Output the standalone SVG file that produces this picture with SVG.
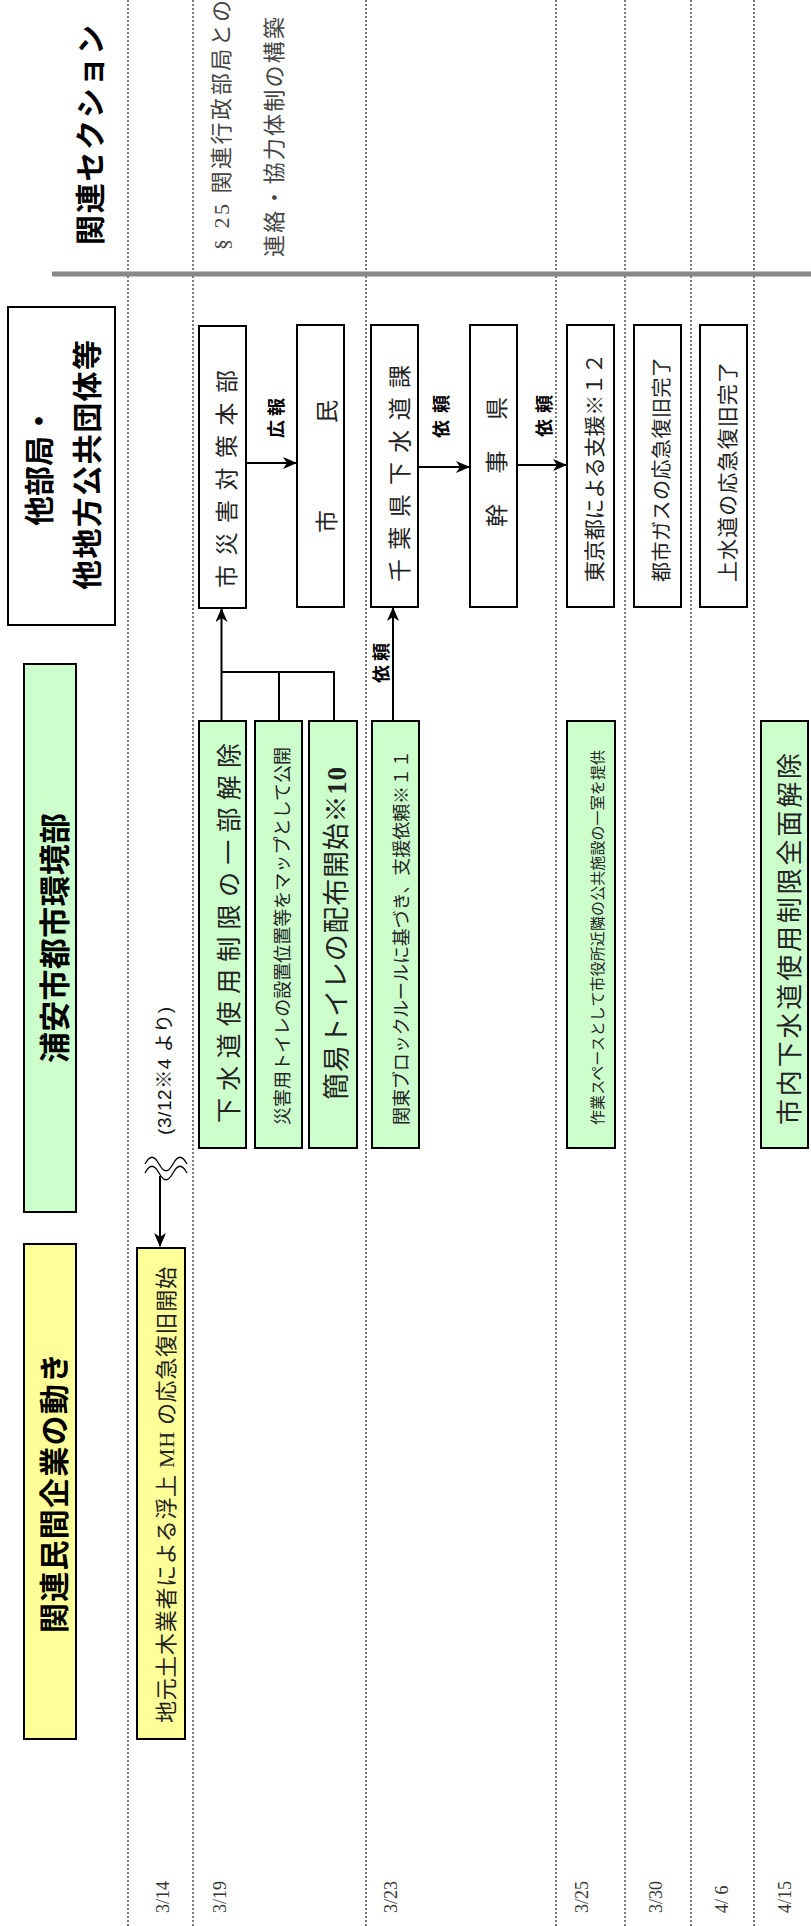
<svg xmlns="http://www.w3.org/2000/svg" width="811" height="1926" viewBox="0 0 811 1926">
<defs>
<marker id="ah" markerWidth="14" markerHeight="12" refX="13" refY="6" orient="auto" markerUnits="userSpaceOnUse">
<path d="M0,0 L14,6 L0,12 L4,6 z" fill="#000"/>
</marker>
<style>
.dot{stroke:#222;stroke-width:1.2;stroke-dasharray:2 2;fill:none}
.box{fill:#fff;stroke:#000;stroke-width:2}
.g{fill:#ccffcc;stroke:#000;stroke-width:2}
.y{fill:#ffff99;stroke:#000;stroke-width:2}
.hd{font-family:"Noto Sans CJK JP",sans-serif;font-weight:bold;fill:#000}
.mt{font-family:"Liberation Serif","Noto Sans CJK JP",serif;fill:#222}
.gr{font-family:"Liberation Serif","Noto Sans CJK JP",serif;fill:#444}
.lb{font-family:"Noto Sans CJK JP",sans-serif;font-weight:bold;font-size:18px;fill:#000}
.sn{font-family:"Liberation Sans","Noto Sans CJK JP",sans-serif;fill:#111}
.dt{font-family:"Liberation Serif",serif;font-size:18px;fill:#333}
.ln{stroke:#000;stroke-width:2;fill:none}
.wv{stroke:#000;stroke-width:1.3;fill:none}
text{dominant-baseline:central}
</style>
</defs>

<g id="grid">
<line class="dot" x1="128" y1="0" x2="128" y2="1926"/>
<line class="dot" x1="193" y1="0" x2="193" y2="1926"/>
<line class="dot" x1="366" y1="0" x2="366" y2="1926"/>
<line class="dot" x1="556" y1="0" x2="556" y2="1926"/>
<line class="dot" x1="625" y1="0" x2="625" y2="1926"/>
<line class="dot" x1="691" y1="0" x2="691" y2="1926"/>
<line class="dot" x1="754" y1="0" x2="754" y2="1926"/>
<line x1="52" y1="274" x2="811" y2="274" stroke="#888" stroke-width="5"/>
</g>

<g id="section-title">
<text class="hd" font-size="30" transform="translate(88,245) rotate(-90)" textLength="220" lengthAdjust="spacing">関連セクション</text>
</g>
<g id="section-note">
<text class="gr" font-size="22" transform="translate(221,250) rotate(-90)" textLength="250" lengthAdjust="spacing">§ 25 関連行政部局との</text>
<text class="gr" font-size="22" transform="translate(274,257) rotate(-90)" textLength="240" lengthAdjust="spacing">連絡・協力体制の構築</text>
</g>

<g id="hdr-other">
<rect class="box" x="8" y="307" width="107" height="318"/>
<text class="hd" font-size="30" text-anchor="middle" transform="translate(37,466) rotate(-90)">他部局・</text>
<text class="hd" font-size="30" transform="translate(85,590) rotate(-90)" textLength="250" lengthAdjust="spacing">他地方公共団体等</text>
</g>

<g id="hdr-city">
<rect class="g" x="24" y="664" width="52" height="548"/>
<text class="hd" font-size="31" transform="translate(52,1063) rotate(-90)" textLength="250" lengthAdjust="spacing">浦安市都市環境部</text>
</g>

<g id="hdr-private">
<rect class="y" x="24" y="1244" width="52" height="495"/>
<text class="hd" font-size="30" transform="translate(52,1633) rotate(-90)" textLength="280" lengthAdjust="spacing">関連民間企業の動き</text>
</g>

<g id="n-taisaku">
<rect class="box" x="199" y="326" width="47" height="282"/>
<text class="mt" font-size="23" transform="translate(227,588) rotate(-90)" textLength="218" lengthAdjust="spacing">市災害対策本部</text>
</g>
<g id="n-shimin">
<rect class="box" x="297" y="325" width="47" height="282"/>
<text class="mt" font-size="23" transform="translate(327,533) rotate(-90)" textLength="133" lengthAdjust="spacing">市民</text>
</g>
<g id="n-chiba">
<rect class="box" x="371" y="325" width="47" height="282"/>
<text class="mt" font-size="23" transform="translate(400,582) rotate(-90)" textLength="217" lengthAdjust="spacing">千葉県下水道課</text>
</g>
<g id="n-kanji">
<rect class="box" x="470" y="325" width="47" height="282"/>
<text class="mt" font-size="23" transform="translate(497,527) rotate(-90)" textLength="130" lengthAdjust="spacing">幹事県</text>
</g>
<g id="n-tokyo">
<rect class="box" x="567" y="325" width="47" height="282"/>
<text class="mt" font-size="21" transform="translate(595,582) rotate(-90)" textLength="229" lengthAdjust="spacing">東京都による支援※１２</text>
</g>
<g id="n-gas">
<rect class="box" x="634" y="325" width="47" height="282"/>
<text class="mt" font-size="20" transform="translate(662,582) rotate(-90)" textLength="225" lengthAdjust="spacing">都市ガスの応急復旧完了</text>
</g>
<g id="n-josui">
<rect class="box" x="700" y="325" width="47" height="282"/>
<text class="mt" font-size="21" transform="translate(728,582) rotate(-90)" textLength="220" lengthAdjust="spacing">上水道の応急復旧完了</text>
</g>

<g id="g-seigen">
<rect class="g" x="199" y="721" width="47" height="427"/>
<text class="mt" font-size="25" transform="translate(229,1123) rotate(-90)" textLength="380" lengthAdjust="spacing">下水道使用制限の一部解除</text>
</g>
<g id="g-map">
<rect class="g" x="255" y="721" width="47" height="427"/>
<text class="mt" font-size="18" transform="translate(283,1125) rotate(-90)" textLength="378" lengthAdjust="spacing">災害用トイレの設置位置等をマップとして公開</text>
</g>
<g id="g-kani">
<rect class="g" x="309" y="721" width="48" height="427"/>
<text class="mt" font-size="27" transform="translate(337,1100) rotate(-90)" textLength="333" lengthAdjust="spacing">簡易トイレの配布開始※<tspan font-weight="bold">10</tspan></text>
</g>
<g id="g-kanto">
<rect class="g" x="372" y="721" width="47" height="427"/>
<text class="mt" font-size="18" transform="translate(402,1125) rotate(-90)" textLength="375" lengthAdjust="spacing">関東ブロックルールに基づき、支援依頼※１１</text>
</g>
<g id="g-space">
<rect class="g" x="567" y="721" width="48" height="427"/>
<text class="mt" font-size="15" transform="translate(598,1125) rotate(-90)" textLength="375" lengthAdjust="spacing">作業スペースとして市役所近隣の公共施設の一室を提供</text>
</g>
<g id="g-zenmen">
<rect class="g" x="761" y="721" width="47" height="427"/>
<text class="mt" font-size="26" transform="translate(790,1125) rotate(-90)" textLength="372" lengthAdjust="spacing">市内下水道使用制限全面解除</text>
</g>

<g id="y-mh">
<rect class="y" x="137" y="1248" width="48" height="491"/>
<text class="mt" font-size="22" transform="translate(166,1723) rotate(-90)" textLength="456" lengthAdjust="spacing">地元土木業者による浮上 MH の応急復旧開始</text>
</g>

<g id="note-0312">
<text class="sn" font-size="19" transform="translate(164,1135) rotate(-90)" textLength="128" lengthAdjust="spacing">(3/12※4 より)</text>
</g>

<g id="connectors">
<line class="ln" x1="221.5" y1="721" x2="221.5" y2="609" marker-end="url(#ah)"/>
<polyline class="ln" points="221.5,672 334,672 334,721"/>
<line class="ln" x1="279" y1="672" x2="279" y2="721"/>
<line class="ln" x1="393" y1="721" x2="393" y2="608" marker-end="url(#ah)"/>
<line class="ln" x1="246" y1="463" x2="296" y2="463" marker-end="url(#ah)"/>
<line class="ln" x1="418" y1="467" x2="469" y2="467" marker-end="url(#ah)"/>
<line class="ln" x1="517" y1="465" x2="566" y2="465" marker-end="url(#ah)"/>
<line class="ln" x1="160" y1="1176" x2="160" y2="1246" marker-end="url(#ah)"/>
<path class="wv" d="M145,1164 c5,-9 9,-9 14,0 s9,9 14,0 s9,-9 14,0"/>
<path class="wv" d="M145,1173 c5,-9 9,-9 14,0 s9,9 14,0 s9,-9 14,0"/>
<text class="lb" transform="translate(275,438) rotate(-90)" textLength="40" lengthAdjust="spacing">広報</text>
<text class="lb" transform="translate(440,438) rotate(-90)" textLength="43" lengthAdjust="spacing">依頼</text>
<text class="lb" transform="translate(543,437) rotate(-90)" textLength="42" lengthAdjust="spacing">依頼</text>
<text class="lb" transform="translate(380,683) rotate(-90)" textLength="40" lengthAdjust="spacing">依頼</text>
</g>

<g id="dates">
<text class="dt" transform="translate(163,1913) rotate(-90)">3/14</text>
<text class="dt" transform="translate(220,1913) rotate(-90)">3/19</text>
<text class="dt" transform="translate(391,1913) rotate(-90)">3/23</text>
<text class="dt" transform="translate(582,1913) rotate(-90)">3/25</text>
<text class="dt" transform="translate(656,1913) rotate(-90)">3/30</text>
<text class="dt" transform="translate(722,1913) rotate(-90)">4/ 6</text>
<text class="dt" transform="translate(785,1913) rotate(-90)">4/15</text>
</g>
</svg>
